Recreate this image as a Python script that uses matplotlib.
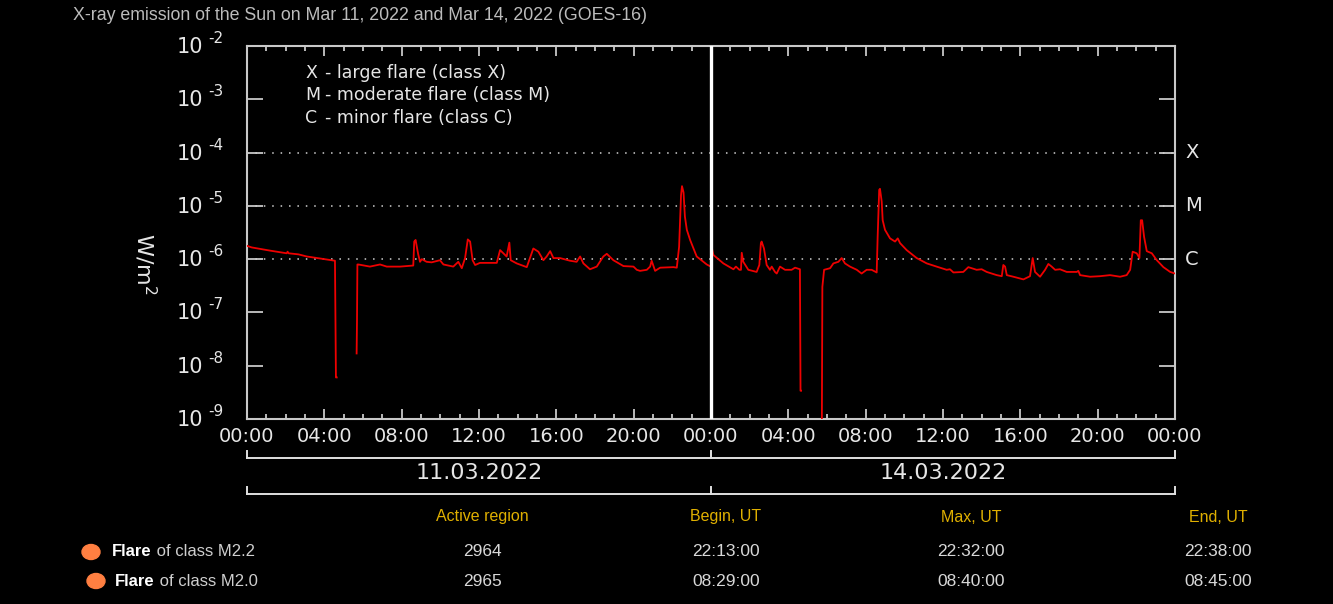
import numpy as np
import matplotlib
matplotlib.use('Agg')
import matplotlib.pyplot as plt
from matplotlib.ticker import MultipleLocator, FixedLocator, NullLocator, FuncFormatter
from matplotlib.transforms import blended_transform_factory
from matplotlib.patches import Ellipse

# ---------------- data ----------------
title = "X-ray emission of the Sun on Mar 11, 2022 and Mar 14, 2022 (GOES-16)"
day_labels = ["11.03.2022", "14.03.2022"]

# hours of day and log10(flux [W/m^2]); NaN = data gap
hours_d1 = [0.00, 0.24, 1.19, 2.05, 2.10, 2.15, 2.66, 3.09, 4.55, 4.60, 4.64, np.nan,
            5.67, 5.69, 5.71, 5.76, 6.36, 6.88, 7.23, 7.92, 8.60, 8.65, 8.72, 8.85, 8.95, 9.04,
            9.29, 9.55, 9.98, 10.16, 10.67, 10.93, 11.11, 11.28, 11.42, 11.54, 11.67, 11.80,
            12.05, 12.92, 13.09, 13.26, 13.43, 13.57, 13.64, 13.95, 14.47, 14.81, 15.07, 15.33,
            15.50, 15.68, 15.85, 16.19, 16.71, 17.05, 17.23, 17.40, 17.74, 18.09, 18.43, 18.61,
            18.95, 19.47, 19.99, 20.16, 20.33, 20.68, 20.85, 20.93, 21.11, 21.37, 22.06, 22.23,
            22.35, 22.45, 22.50, 22.58, 22.65, 22.75, 22.92, 23.26, 23.78, 23.99]
logflux_d1 = [-5.75, -5.78, -5.84, -5.89, -5.86, -5.89, -5.91, -5.95, -6.03, -8.22, -8.22, np.nan,
              -7.77, -7.14, -6.10, -6.10, -6.14, -6.10, -6.14, -6.14, -6.12, -5.67, -5.64, -5.90, -6.05, -6.00,
              -6.05, -6.06, -6.02, -6.10, -6.14, -6.05, -6.17, -5.98, -5.63, -5.67, -6.02, -6.11,
              -6.07, -6.07, -5.83, -5.89, -5.95, -5.69, -6.02, -6.08, -6.15, -5.80, -5.86, -6.02,
              -5.95, -5.85, -5.98, -5.98, -6.03, -6.05, -5.95, -6.08, -6.19, -6.14, -5.95, -5.90,
              -6.02, -6.13, -6.14, -6.20, -6.22, -6.20, -6.14, -6.03, -6.22, -6.16, -6.15, -6.16,
              -5.77, -4.80, -4.63, -4.75, -5.20, -5.45, -5.64, -5.95, -6.10, -6.14]

hours_d2 = [0.05, 0.12, 0.64, 1.16, 1.29, 1.47, 1.55, 1.59, 1.67, 1.93, 2.36, 2.50, 2.58, 2.62,
            2.74, 2.88, 3.05, 3.14, 3.31, 3.40, 3.57, 3.83, 4.17, 4.35, 4.60, 4.63, 4.66, np.nan,
            5.73, 5.76, 5.85, 6.16, 6.33, 6.59, 6.76, 6.93, 7.19, 7.54, 7.79, 8.05, 8.31, 8.57,
            8.62, 8.70, 8.74, 8.83, 8.88, 9.00, 9.26, 9.52, 9.66, 9.78, 10.12, 10.64, 11.16, 11.67,
            12.19, 12.36, 12.54, 13.05, 13.31, 13.74, 14.00, 14.26, 14.78, 15.04, 15.12, 15.21,
            15.30, 15.64, 16.16, 16.50, 16.64, 16.76, 17.02, 17.28, 17.45, 17.62, 17.80, 18.05,
            18.40, 18.92, 19.00, 19.09, 19.61, 20.12, 20.64, 21.16, 21.50, 21.68, 21.81, 22.02,
            22.16, 22.23, 22.30, 22.40, 22.54, 22.80, 23.06, 23.40, 23.75, 24.00]
logflux_d2 = [-5.80, -5.92, -6.08, -6.19, -6.14, -6.20, -6.20, -5.88, -6.05, -6.20, -6.24, -6.11, -5.70, -5.67,
              -5.80, -6.11, -6.20, -6.14, -6.24, -6.27, -6.14, -6.20, -6.20, -6.16, -6.19, -8.47, -8.47, np.nan,
              -9.50, -6.52, -6.20, -6.17, -6.08, -6.05, -5.98, -6.08, -6.14, -6.20, -6.27, -6.20, -6.20, -6.25,
              -5.58, -4.70, -4.68, -4.92, -5.27, -5.45, -5.61, -5.67, -5.61, -5.70, -5.83, -5.98, -6.08, -6.14,
              -6.20, -6.19, -6.25, -6.24, -6.15, -6.20, -6.19, -6.24, -6.30, -6.32, -6.11, -6.14,
              -6.30, -6.33, -6.38, -6.32, -5.98, -6.24, -6.33, -6.20, -6.09, -6.14, -6.20, -6.19,
              -6.24, -6.24, -6.22, -6.30, -6.33, -6.32, -6.30, -6.33, -6.30, -6.20, -5.86, -5.89,
              -5.98, -5.27, -5.27, -5.58, -5.85, -5.89, -6.02, -6.15, -6.24, -6.27]

decade_exponents = [-2, -3, -4, -5, -6, -7, -8, -9]
class_letters = ["X", "M", "C"]
class_levels = [1e-4, 1e-5, 1e-6]
class_texts = ["- large flare (class X)", "- moderate flare (class M)", "- minor flare (class C)"]

table_headers = ["Active region", "Begin, UT", "Max, UT", "End, UT"]
flare_classes = ["M2.2", "M2.0"]
active_regions = ["2964", "2965"]
begin_ut = ["22:13:00", "08:29:00"]
max_ut = ["22:32:00", "08:40:00"]
end_ut = ["22:38:00", "08:45:00"]

# ---------------- figure ----------------
W, H = 1333, 604
fig = plt.figure(figsize=(W / 100, H / 100), dpi=100, facecolor='black')

def fx(px):
    return px / W

def fy(py):
    return 1 - py / H

AX_L, AX_R, AX_T, AX_B = 247, 1175, 46, 419
ax = fig.add_axes([fx(AX_L), fy(AX_B), fx(AX_R) - fx(AX_L), fy(AX_T) - fy(AX_B)])
ax.set_facecolor('black')
ax.set_yscale('log')
ax.set_xlim(0, 48)
ax.set_ylim(10.0 ** min(decade_exponents), 10.0 ** max(decade_exponents))

RED = '#ee0000'
GRAY = '#c8c8c8'
TXT = '#e6e6e6'

ax.plot(np.array(hours_d1), 10.0 ** np.array(logflux_d1), color=RED, lw=1.3, zorder=3)
ax.plot(np.array(hours_d2) + 24, 10.0 ** np.array(logflux_d2), color=RED, lw=1.3, zorder=3)

for lvl in class_levels:
    ax.axhline(lvl, color='#d0d0d0', lw=1.1, dashes=(1, 4.5), zorder=2)

ax.axvline(24, color='white', lw=2.4, zorder=4)

for sp in ax.spines.values():
    sp.set_color(GRAY)
    sp.set_linewidth(1.5)

ax.xaxis.set_major_locator(MultipleLocator(4))
ax.xaxis.set_minor_locator(MultipleLocator(1))
ax.xaxis.set_major_formatter(FuncFormatter(lambda v, p: f"{int(round(v)) % 24:02d}:00"))
ax.tick_params(axis='x', which='both', direction='in', top=True, bottom=True,
               colors=GRAY, width=1.3, labelcolor=TXT, labelsize=14, pad=6)
ax.tick_params(axis='x', which='major', length=7)
ax.tick_params(axis='x', which='minor', length=3.8)

ax.yaxis.set_major_locator(FixedLocator([10.0 ** e for e in decade_exponents]))
ax.yaxis.set_minor_locator(NullLocator())
ax.tick_params(axis='y', which='major', direction='in', left=True, right=True,
               length=11.5, width=1.3, colors=GRAY, labelleft=False)

# y tick labels 10^e
ytrans = blended_transform_factory(fig.transFigure, ax.transData)
for e in decade_exponents:
    ax.annotate("10", xy=(fx(203), 10.0 ** e), xycoords=ytrans, xytext=(0, -7),
                textcoords='offset pixels', ha='right', va='baseline',
                fontsize=15, color=TXT, annotation_clip=False)
    ax.annotate(f"{e}", xy=(fx(203), 10.0 ** e), xycoords=ytrans, xytext=(5, 3),
                textcoords='offset pixels', ha='left', va='baseline',
                fontsize=11, color=TXT, annotation_clip=False)

fig.text(fx(145), fy(264), r"W/m$^{2}$", rotation=270, ha='center', va='center',
         fontsize=16, color=TXT)

# class letters at right
for letter, lvl in zip(class_letters, class_levels):
    fig.text(fx(1185), lvl, letter, transform=ytrans, ha='left', va='center',
             fontsize=14, color=TXT)

# in-plot legend text
for i, (letter, txt) in enumerate(zip(class_letters, class_texts)):
    y = fy(73 + 22.5 * i)
    fig.text(fx(305), y, letter, ha='left', va='center', fontsize=12.5, color=TXT)
    fig.text(fx(325), y, txt, ha='left', va='center', fontsize=12.5, color=TXT)

# title
fig.text(fx(73), fy(16), title, ha='left', va='center', fontsize=12.8,
         color='#bcbcbc', family='Liberation Sans')

# date brackets
btrans = blended_transform_factory(ax.transData, fig.transFigure)
for yb in (458, 494):
    ax.plot([0, 48], [fy(yb), fy(yb)], transform=btrans, color='#e0e0e0', lw=1.4, clip_on=False)
    for xt in (0, 24, 48):
        ax.plot([xt, xt], [fy(yb), fy(yb - 7)], transform=btrans, color='#e0e0e0',
                lw=1.4, clip_on=False)
for i, lab in enumerate(day_labels):
    fig.text(12 + 24 * i, fy(473), lab, transform=btrans, ha='center', va='center',
             fontsize=16, color=TXT)

# table
col_x = [482, 726, 971, 1218]
for cx, hdr in zip(col_x, table_headers):
    fig.text(fx(cx), fy(517), hdr, ha='center', va='center', fontsize=11.5,
             color='#e0b000', family='Liberation Sans')

row_y = [552, 581]
dot_x = [91, 96]
text_x = [112, 115]
for i in range(len(flare_classes)):
    yy = fy(row_y[i])
    fig.add_artist(Ellipse((fx(dot_x[i]), yy), width=18 / W, height=15 / H,
                           transform=fig.transFigure, color='#ff7f41'))
    t = fig.text(fx(text_x[i]), yy, "Flare", ha='left', va='center', fontsize=12,
                 color='white', weight='bold', family='Liberation Sans')
    ax.annotate(f" of class {flare_classes[i]}", xy=(1, 0), xycoords=t, ha='left', va='bottom',
                fontsize=12, color='#cfcfcf', family='Liberation Sans', annotation_clip=False)
    for cx, val in zip(col_x, [active_regions[i], begin_ut[i], max_ut[i], end_ut[i]]):
        fig.text(fx(cx), yy, val, ha='center', va='center', fontsize=12.5,
                 color='#d8d8d8', family='Liberation Sans')

fig.savefig('out.png', dpi=100, facecolor='black')
